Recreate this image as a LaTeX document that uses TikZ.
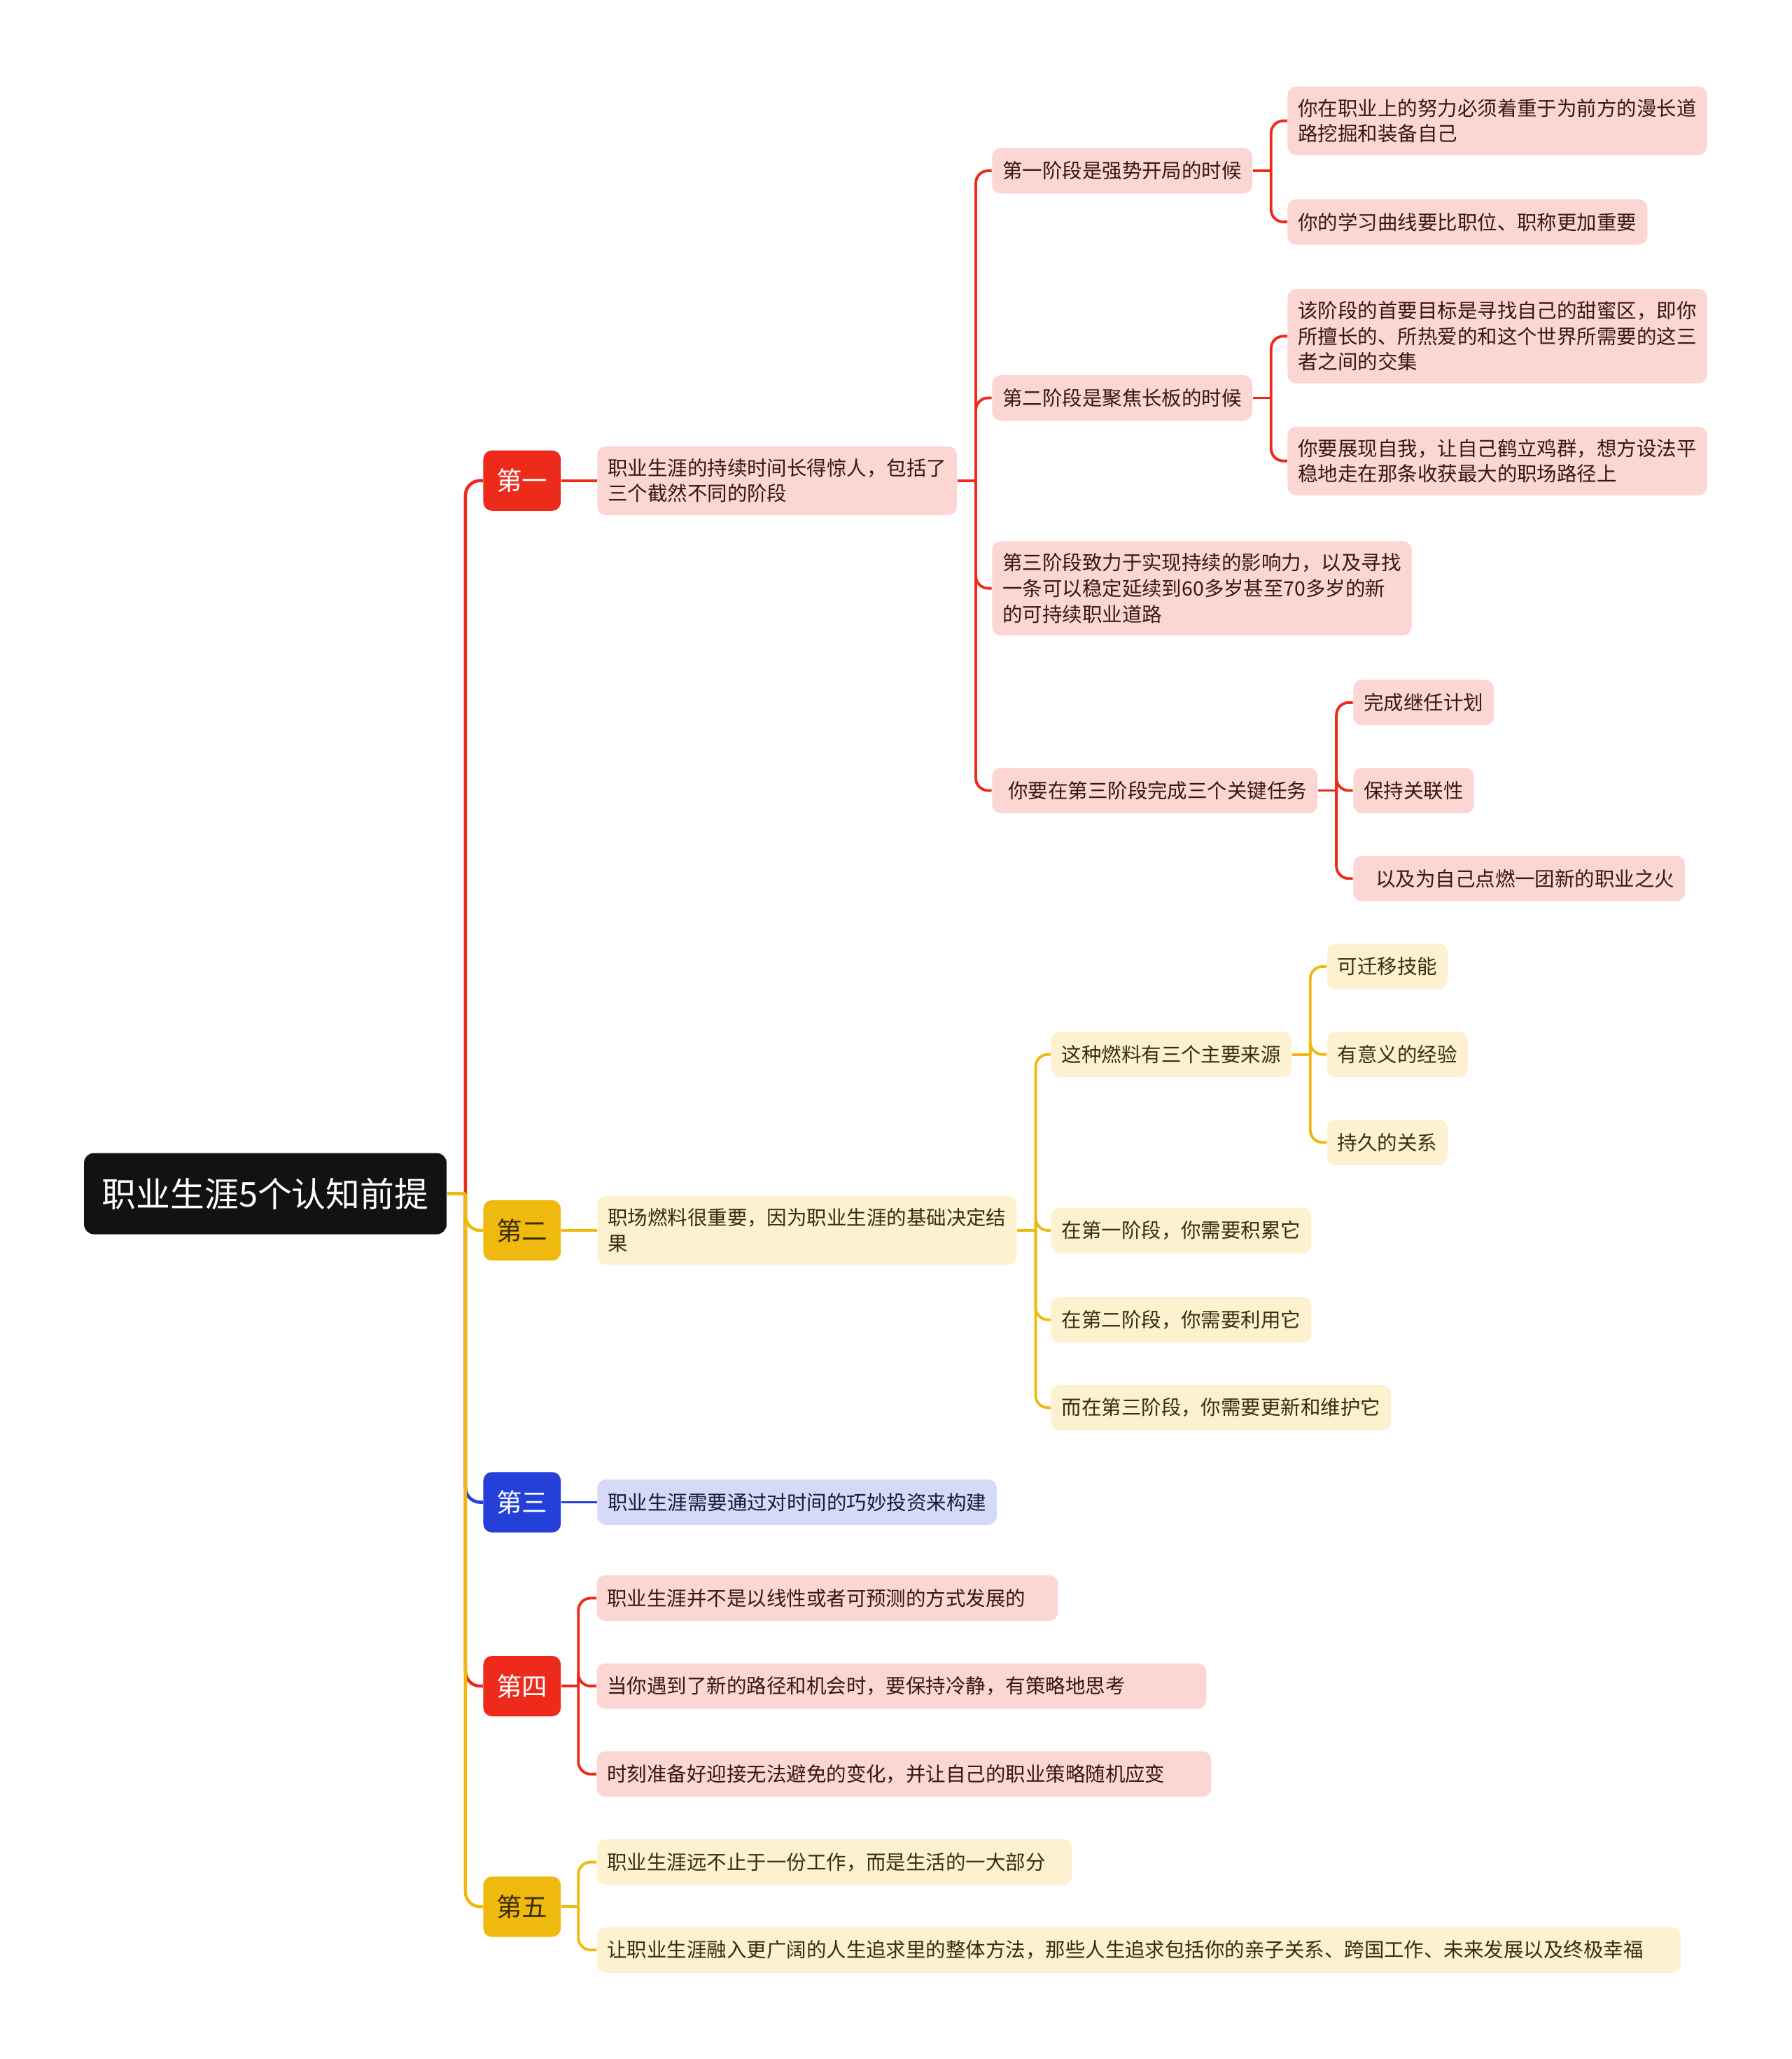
\documentclass[tikz,border=0pt]{standalone}
\usepackage{fontspec}
\setmainfont{Noto Sans CJK SC}
\usepackage{tikz}
\usetikzlibrary{positioning,calc}
\definecolor{rootblack}{HTML}{121212}
\definecolor{mapred}{HTML}{EE2A1B}
\definecolor{mapyellow}{HTML}{F0B90E}
\definecolor{mapblue}{HTML}{2440D9}
\definecolor{pinkfill}{HTML}{FCD6D2}
\definecolor{pinktext}{HTML}{3B1512}
\definecolor{creamfill}{HTML}{FDF1D0}
\definecolor{creamtext}{HTML}{3A2D0C}
\definecolor{lilacfill}{HTML}{D6DAF8}
\definecolor{lilactext}{HTML}{161B3A}

\begin{document}
\begin{tikzpicture}[
			x=0.01877cm, y=-0.01877cm,
			root/.style={fill=rootblack, text=white, rounded corners=4pt, minimum width=5.18cm, minimum height=1.16cm, font=\fontsize{13.9}{16}\selectfont},
			topic/.style={rounded corners=3.5pt, minimum width=1.107cm, minimum height=0.863cm, inner sep=0pt, font=\fontsize{10.4}{12}\selectfont},
			leaf/.style={rounded corners=3.5pt, anchor=west, align=left, inner xsep=0.15cm, inner ysep=5pt, minimum height=0.65cm, font=\fontsize{8.1}{10.4}\selectfont},
			pinkbox/.style={leaf, fill=pinkfill, text=pinktext},
			creambox/.style={leaf, fill=creamfill, text=creamtext},
			lilacbox/.style={leaf, fill=lilacfill, text=lilactext},
			boxw/.style={text width=#1},
			rline/.style={draw=mapred, line width=1.1pt},
			yline/.style={draw=mapyellow, line width=1.1pt},
			bline/.style={draw=mapblue, line width=1.1pt}
			]
			\fill[white] (0,0) rectangle (1364,1568);
			\node[root] (root) at (202,909) {职业生涯5个认知前提};
			\node[topic, fill=mapred, text=white] (t1) at (397.5,366) {第一};
			\node[topic, fill=mapyellow, text=creamtext] (t2) at (397.5,937) {第二};
			\node[topic, fill=mapblue, text=white] (t3) at (397.5,1144) {第三};
			\node[topic, fill=mapred, text=white] (t4) at (397.5,1284) {第四};
			\node[topic, fill=mapyellow, text=creamtext] (t5) at (397.5,1452) {第五};
			
			\node[pinkbox, right=0.507cm of t1] (span) {职业生涯的持续时间长得惊人，包括了\\三个截然不同的阶段};
			\node[pinkbox] (stage1) at (755,130) {第一阶段是强势开局的时候};
			\node[pinkbox] (stage2) at (755,303) {第二阶段是聚焦长板的时候};
			\node[pinkbox] (stage3) at (755,448) {第三阶段致力于实现持续的影响力，以及寻找\\一条可以稳定延续到60多岁甚至70多岁的新\\的可持续职业道路};
			\node[pinkbox] (tasks) at (755,602) {\hspace{0.08cm}你要在第三阶段完成三个关键任务};
			\node[pinkbox] (dig) at (980,92) {你在职业上的努力必须着重于为前方的漫长道\\路挖掘和装备自己};
			\node[pinkbox] (curve) at (980,169) {你的学习曲线要比职位、职称更加重要};
			\node[pinkbox] (sweet) at (980,256) {该阶段的首要目标是寻找自己的甜蜜区，即你\\所擅长的、所热爱的和这个世界所需要的这三\\者之间的交集};
			\node[pinkbox] (standout) at (980,351) {你要展现自我，让自己鹤立鸡群，想方设法平\\稳地走在那条收获最大的职场路径上};
			\node[pinkbox] (task1) at (1030,535) {完成继任计划};
			\node[pinkbox] (task2) at (1030,602) {保持关联性};
			\node[pinkbox] (task3) at (1030,669) {\hspace{0.17cm}以及为自己点燃一团新的职业之火};
			
			\node[creambox, right=0.507cm of t2] (fuel) {职场燃料很重要，因为职业生涯的基础决定结\\果};
			\node[creambox] (source) at (800,803) {这种燃料有三个主要来源};
			\node[creambox] (fuel1) at (800,937) {在第一阶段，你需要积累它};
			\node[creambox] (fuel2) at (800,1005) {在第二阶段，你需要利用它};
			\node[creambox] (fuel3) at (800,1072) {而在第三阶段，你需要更新和维护它};
			\node[creambox] (skill) at (1010,736) {可迁移技能};
			\node[creambox] (exper) at (1010,803) {有意义的经验};
			\node[creambox] (relat) at (1010,870) {持久的关系};
			
			\node[lilacbox, right=0.507cm of t3] (invest) {职业生涯需要通过对时间的巧妙投资来构建};
			
			\node[pinkbox, boxw=6.29cm] (nonlin) at (454,1217) {职业生涯并不是以线性或者可预测的方式发展的};
			\node[pinkbox, boxw=8.41cm] (calm) at (454,1284) {当你遇到了新的路径和机会时，要保持冷静，有策略地思考};
			\node[pinkbox, boxw=8.48cm] (adapt) at (454,1351) {时刻准备好迎接无法避免的变化，并让自己的职业策略随机应变};
			
			\node[creambox, boxw=6.49cm] (life) at (454,1418) {职业生涯远不止于一份工作，而是生活的一大部分};
			\node[creambox, boxw=15.19cm] (whole) at (454,1485) {让职业生涯融入更广阔的人生追求里的整体方法，那些人生追求包括你的亲子关系、跨国工作、未来发展以及终极幸福};
			
			\coordinate (rj) at ($(root.east)+(14,0)$);
			\draw[rline, line width=1.3pt, rounded corners=6pt] (rj) |- (t1.west);
			\draw[bline, line width=1.3pt, rounded corners=6pt] (rj) |- (t3.west);
			\draw[rline, line width=1.3pt, rounded corners=6pt] (rj) |- (t4.west);
			\draw[yline, line width=1.3pt, rounded corners=6pt] (rj) |- (t2.west);
			\draw[yline, line width=1.3pt, rounded corners=6pt] (rj) |- (t5.west);
			\draw[yline, line width=1.3pt] (root.east) -- (rj);
			
			\draw[rline] (t1) -- (span);
			\draw[yline] (t2) -- (fuel);
			\draw[bline] (t3) -- (invest);
			
			\draw[rline] (span.east) -- ++(14,0) coordinate (spanj);
			\foreach \kid in {stage1,stage2,stage3,tasks}
				\draw[rline, rounded corners=5pt] (spanj) |- (\kid.west);
			\draw[rline] (stage1.east) -- ++(14,0) coordinate (s1j);
			\foreach \kid in {dig,curve}
				\draw[rline, rounded corners=5pt] (s1j) |- (\kid.west);
			\draw[rline] (stage2.east) -- ++(14,0) coordinate (s2j);
			\foreach \kid in {sweet,standout}
				\draw[rline, rounded corners=5pt] (s2j) |- (\kid.west);
			\draw[rline] (tasks.east) -- ++(14,0) coordinate (tj);
			\foreach \kid in {task1,task2,task3}
				\draw[rline, rounded corners=5pt] (tj) |- (\kid.west);
			
			\draw[yline] (fuel.east) -- ++(14,0) coordinate (fj);
			\foreach \kid in {source,fuel1,fuel2,fuel3}
				\draw[yline, rounded corners=5pt] (fj) |- (\kid.west);
			\draw[yline] (source.east) -- ++(14,0) coordinate (sj);
			\foreach \kid in {skill,exper,relat}
				\draw[yline, rounded corners=5pt] (sj) |- (\kid.west);
			
			\draw[rline] (t4.east) -- ++(13,0) coordinate (t4j);
			\foreach \kid in {nonlin,calm,adapt}
				\draw[rline, rounded corners=5pt] (t4j) |- (\kid.west);
			\draw[yline] (t5.east) -- ++(13,0) coordinate (t5j);
			\foreach \kid in {life,whole}
				\draw[yline, rounded corners=5pt] (t5j) |- (\kid.west);
		\end{tikzpicture}
\end{document}
